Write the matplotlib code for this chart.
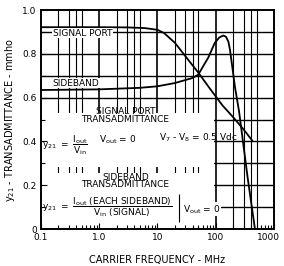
import numpy as np
import matplotlib.pyplot as plt
from matplotlib.ticker import FixedLocator, NullFormatter
import matplotlib.transforms as mtransforms

plt.rcParams['font.family'] = ['Liberation Sans Narrow', 'DejaVu Sans']
plt.rcParams['mathtext.fontset'] = 'custom'
plt.rcParams['mathtext.rm'] = 'Liberation Sans Narrow'
plt.rcParams['mathtext.it'] = 'Liberation Sans Narrow'

# datos (MHz, mmho)
sig_f = [0.1, 1, 3, 6, 10, 13, 20, 30, 50, 80, 130, 200, 300, 420]
sig_y = [0.922, 0.922, 0.921, 0.918, 0.91, 0.895, 0.85, 0.79, 0.715, 0.64, 0.565, 0.51, 0.455, 0.405]

side_f = [0.1, 1, 5, 10, 20, 40, 50, 75, 96, 115, 135, 150, 165, 175, 190, 213, 250, 280, 350, 470]
side_y = [0.635, 0.638, 0.645, 0.652, 0.667, 0.69, 0.705, 0.785, 0.85, 0.875, 0.884, 0.878, 0.855, 0.82, 0.75, 0.65, 0.54, 0.44, 0.24, 0.0]

x_ticks = [0.1, 1, 10, 100, 1000]
x_labels = ['0.1', '1.0', '10', '100', '1000']
y_ticks = [0, 0.2, 0.4, 0.6, 0.8, 1.0]
y_labels = ['0', '0.2', '0.4', '0.6', '0.8', '1.0']

fig = plt.figure(figsize=(2.84, 2.66), dpi=100)
ax = fig.add_axes([0.144, 0.139, 0.821, 0.823])
ax.set_xscale('log')
ax.set_xlim(0.1, 1000)
ax.set_ylim(0, 1.0)

# rejilla dibujada a mano para que quede debajo de las zonas blancas
grid_f = [m * 10.0**d for d in range(-1, 3) for m in (2, 3, 4, 5)]
for f in grid_f:
    ax.axvline(f, color='black', lw=0.8, zorder=0.5)
for f in x_ticks[1:-1]:
    ax.axvline(f, color='black', lw=1.2, zorder=0.5)
for v in np.arange(0.1, 1.0, 0.1):
    ax.axhline(v, color='black', lw=1.0, zorder=0.5)

# zonas blancas donde van los textos
ax.fill_between([0.1, 95], 0.285, 0.53, color='white', zorder=1, lw=0)
ax.fill_between([0.1, 95], 0.003, 0.255, color='white', zorder=1, lw=0)

ax.plot(sig_f, sig_y, color='black', lw=1.3, zorder=3)
ax.plot(side_f, side_y, color='black', lw=1.3, zorder=3)

fs = 6.5
box = dict(facecolor='white', edgecolor='none', pad=0.5)
ax.text(0.16, 0.895, 'SIGNAL PORT', fontsize=fs, va='center', ha='left', bbox=box, zorder=4)
ax.text(0.16, 0.667, 'SIDEBAND', fontsize=fs, va='center', ha='left', bbox=box, zorder=4)

ax.text(2.8, 0.535, 'SIGNAL PORT', fontsize=fs, ha='center', va='center', zorder=4)
ax.text(2.8, 0.50, 'TRANSADMITTANCE', fontsize=fs, ha='center', va='center', zorder=4)
ax.text(0.105, 0.385, r'$\mathrm{y_{21}\ =\ }\dfrac{\mathrm{I_{out}}}{\mathrm{V_{in}}}$',
        fontsize=fs, ha='left', va='center', zorder=4)
ax.text(1.0, 0.41, 'V$_{out}$ = 0', fontsize=fs, ha='left', va='center', zorder=4)
ax.text(10.5, 0.415, 'V$_7$ - V$_8$ = 0.5 Vdc', fontsize=fs, ha='left', va='center', zorder=4)

ax.text(2.8, 0.237, 'SIDEBAND', fontsize=fs, ha='center', va='center', zorder=4)
ax.text(2.8, 0.203, 'TRANSADMITTANCE', fontsize=fs, ha='center', va='center', zorder=4)
ax.text(0.105, 0.10, r'$\mathrm{y_{21}\ =\ }\dfrac{\mathrm{I_{out}\ (EACH\ SIDEBAND)}}{\mathrm{V_{in}\ (SIGNAL)}}$',
        fontsize=fs, ha='left', va='center', zorder=4)
ax.vlines(23, 0.03, 0.16, color='black', lw=0.8, zorder=4)
ax.text(27, 0.09, 'V$_{out}$ = 0', fontsize=fs, ha='left', va='center', bbox=box, zorder=4)

ax.xaxis.set_major_locator(FixedLocator(x_ticks))
ax.set_xticklabels(x_labels, fontsize=fs)
ax.xaxis.set_minor_locator(FixedLocator([m * 10.0**d for d in range(-1, 3) for m in range(2, 10)]))
ax.xaxis.set_minor_formatter(NullFormatter())
ax.set_yticks(y_ticks)
ax.set_yticklabels(y_labels, fontsize=fs)
ax.yaxis.set_minor_locator(FixedLocator([0.1, 0.3, 0.5, 0.7, 0.9]))
ax.tick_params(which='major', direction='in', length=4, width=0.8, pad=3)
ax.tick_params(which='minor', direction='in', length=3, width=0.8)
last = ax.get_xticklabels()[-1]
last.set_horizontalalignment('right')
last.set_transform(last.get_transform() + mtransforms.ScaledTranslation(4 / 72, 0, fig.dpi_scale_trans))
for s in ax.spines.values():
    s.set_linewidth(1.4)
    s.set_zorder(5)

ax.set_xlabel('CARRIER FREQUENCY - MHz', fontsize=fs + 0.5, labelpad=9)
ax.set_ylabel('y$_{21}$ - TRANSADMITTANCE - mmho', fontsize=fs + 0.5, labelpad=4)

fig.savefig('out.png', dpi=100)
